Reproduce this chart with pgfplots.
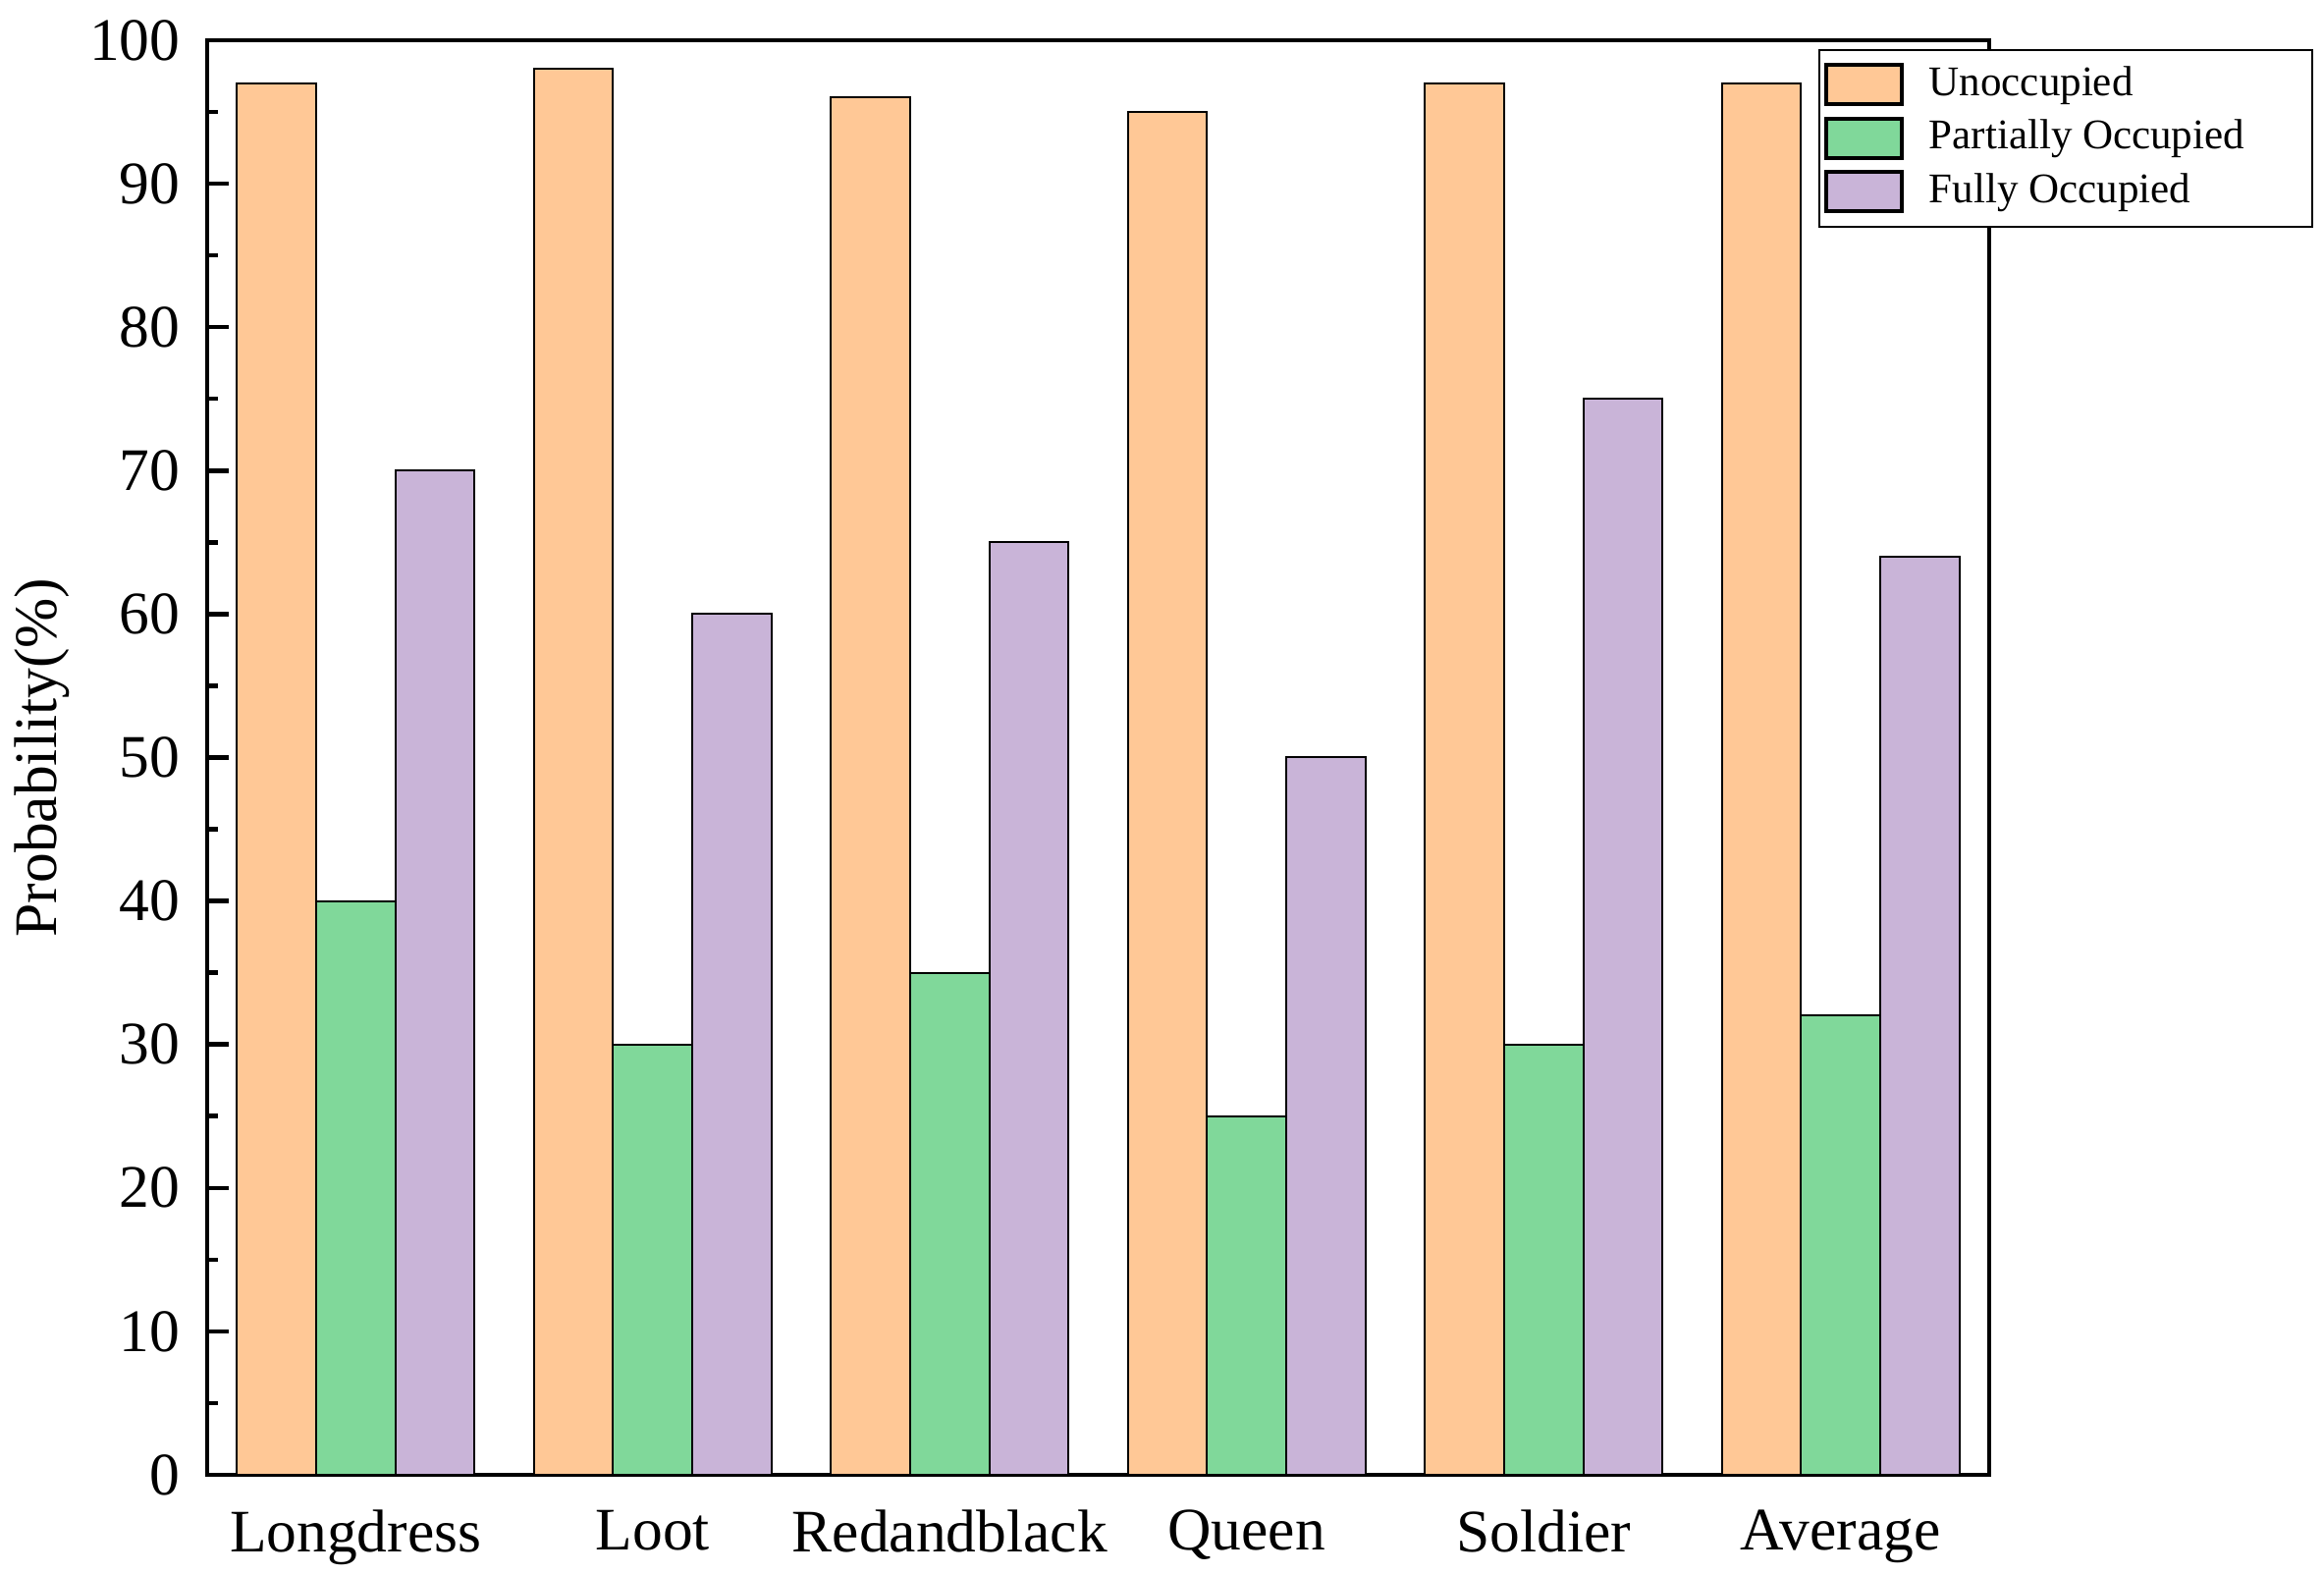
\documentclass[border=0pt]{standalone}
\usepackage{fontspec}
\setmainfont{Liberation Serif}
\usepackage{pgfplots}
\pgfplotsset{compat=1.18}

\definecolor{cUn}{HTML}{FFC896}
\definecolor{cPart}{HTML}{80D89A}
\definecolor{cFull}{HTML}{C9B4D8}

\begin{document}
\begin{tikzpicture}
\path[use as bounding box] (-42.2pt,-20.2pt) rectangle (431.2pt,300.4pt);
\begin{axis}[
    scale only axis,
    width=363pt, height=292.2pt,
    xmin=-0.5, xmax=5.5,
    ymin=0, ymax=100,
    xtick={0,1,2,3,4,5},
    xticklabels={Longdress,Loot,Redandblack,Queen,Soldier,Average},
    ytick={0,10,...,100},
    minor y tick num=1,
    tick align=inside,
    ytick pos=left,
    x tick style={draw=none},
    y tick style={line width=0.9pt, black},
    major tick length=4.5pt,
    minor tick length=2.3pt,
    axis line style={line width=0.9pt},
    /pgf/number format/assume math mode=true,
    tick label style={font=\fontsize{12.3}{14}\selectfont},
    yticklabel style={xshift=-2pt},
    xticklabel style={yshift=0.8pt},
    ylabel={Probability(\%)},
    every axis y label/.style={at={(axis description cs:-0.0928,0.5)}, rotate=90, anchor=center, font=\fontsize{12.3}{14}\selectfont},
    ybar,
    bar width=0.2667,
    legend style={at={(rel axis cs:0.904,0.994)}, anchor=north west,
        font=\fontsize{8.6}{10}\selectfont, draw=black, line width=0.4pt,
        inner xsep=1pt, inner ysep=1.4pt, row sep=-0.6pt,
        cells={anchor=west}},
    legend image code/.code={\draw[#1, line width=0.8pt] (0pt,-4pt) rectangle (15.5pt,4pt);
        \path[draw=none, fill=none] (0pt,0pt) -- (19pt,0pt);},
    legend cell align=left,
]
\addplot[fill=cUn, draw=black, line width=0.4pt, bar shift=-0.2667]
    coordinates {(0,97) (1,98) (2,96) (3,95) (4,97) (5,97)};
\addplot[fill=cPart, draw=black, line width=0.4pt, bar shift=0]
    coordinates {(0,40) (1,30) (2,35) (3,25) (4,30) (5,32)};
\addplot[fill=cFull, draw=black, line width=0.4pt, bar shift=0.2667]
    coordinates {(0,70) (1,60) (2,65) (3,50) (4,75) (5,64)};
\legend{Unoccupied, Partially Occupied\rule{10.8pt}{0pt}, Fully Occupied}
\end{axis}
\end{tikzpicture}
\end{document}
